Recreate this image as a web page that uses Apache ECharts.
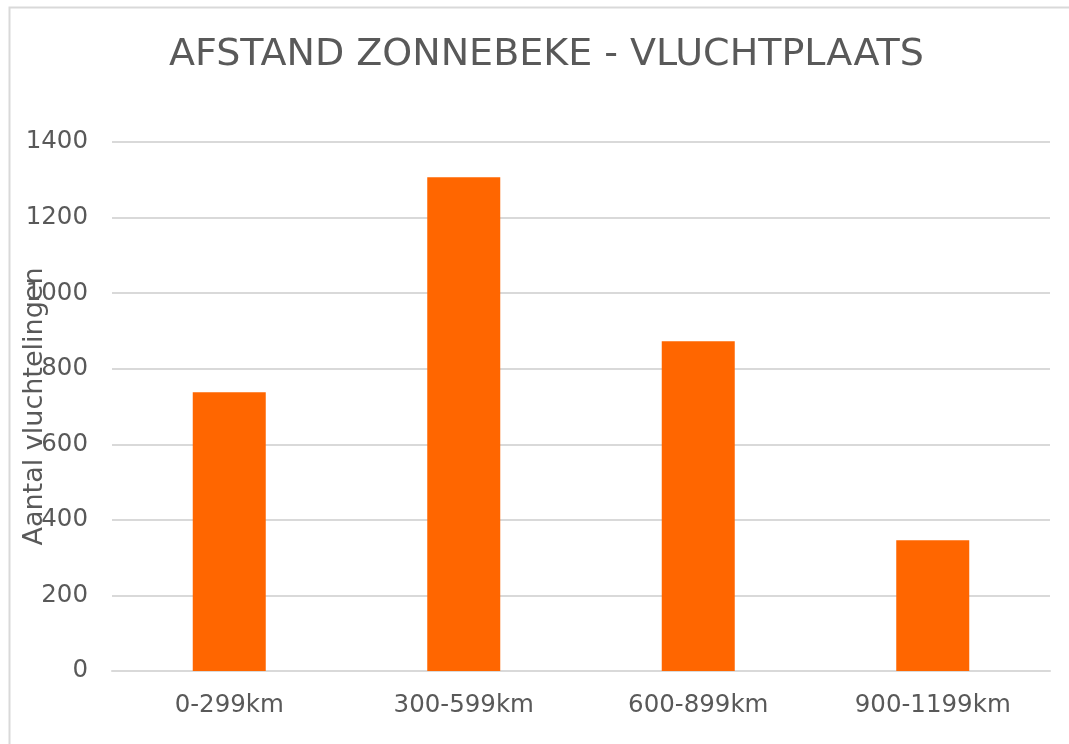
<!DOCTYPE html>
<html>
<head>
<meta charset="utf-8">
<script src="https://cdn.jsdelivr.net/npm/echarts@6/dist/echarts.min.js"></script>
<style>
  html, body { margin: 0; padding: 0; background: #fff; }
  #chart { width: 1069px; height: 744px; }
</style>
</head>
<body>
<div id="chart"></div>
<script>
// afstand categorieen en aantallen
var categories = ['0-299km', '300-599km', '600-899km', '900-1199km'];
var aantallen = [738, 1307, 873, 346];
var yTicks = [0, 200, 400, 600, 800, 1000, 1200, 1400];

var chart = echarts.init(document.getElementById('chart'));
var font = 'Verdana, "DejaVu Sans", sans-serif';

var option = {
  animation: false,
  backgroundColor: '#fff',
  title: {
    text: 'AFSTAND ZONNEBEKE - VLUCHTPLAATS',
    left: 164,
    top: 31,
    textStyle: { fontFamily: font, fontSize: 38, fontWeight: 'normal', color: '#595959' }
  },
  graphic: [{
    type: 'rect',
    shape: { x: 9.5, y: 7.5, width: 1100, height: 800 },
    style: { fill: 'none', stroke: '#d9d9d9', lineWidth: 2 },
    silent: true
  }],
  grid: { left: 112, right: 19, top: 142, bottom: 73, outerBoundsMode: 'none' },
  xAxis: {
    type: 'category',
    data: categories,
    axisLine: { lineStyle: { color: '#d9d9d9', width: 2 } },
    axisTick: { show: false },
    axisLabel: { fontFamily: font, fontSize: 24.5, color: '#595959', margin: 22 }
  },
  yAxis: {
    type: 'value',
    min: yTicks[0],
    max: yTicks[yTicks.length - 1],
    interval: yTicks[1] - yTicks[0],
    name: 'Aantal vluchtelingen',
    nameLocation: 'middle',
    nameGap: 64,
    nameMoveOverlap: false,
    nameTextStyle: { fontFamily: font, fontSize: 27, color: '#595959' },
    axisLine: { show: false },
    axisTick: { show: false },
    axisLabel: {
      fontFamily: font, fontSize: 24.5, color: '#595959', margin: 24,
      formatter: function (v) { return String(v); }
    },
    splitLine: { lineStyle: { color: '#d9d9d9', width: 2 } }
  },
  series: [{
    type: 'bar',
    data: aantallen,
    barWidth: 73,
    itemStyle: { color: '#ff6600' }
  }]
};

chart.setOption(option);
</script>
</body>
</html>
